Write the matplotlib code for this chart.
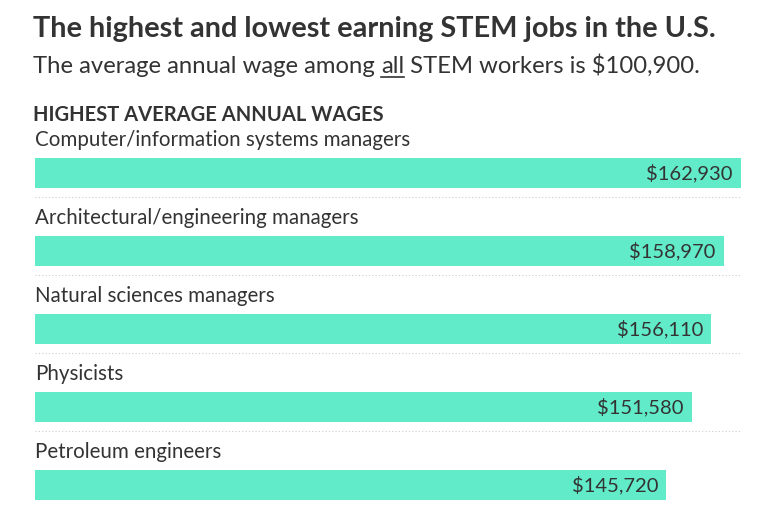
import matplotlib.pyplot as plt
from matplotlib.lines import Line2D

# Datos
jobs = ['Computer/information systems managers', 'Architectural/engineering managers',
        'Natural sciences managers', 'Physicists', 'Petroleum engineers']
wages = [162930, 158970, 156110, 151580, 145720]
labels = ['$162,930', '$158,970', '$156,110', '$151,580', '$145,720']

plt.rcParams['font.family'] = ['Lato', 'DejaVu Sans']
W, H = 780, 514
fig = plt.figure(figsize=(W / 100, H / 100), dpi=100)

# Ejes: 0 en x=35 px, 162930 en x=741 px; filas de 78 px
ax = fig.add_axes([35 / W, 0, 706 / W, (514 - 108) / H])
ax.set_xlim(0, max(wages))
ax.set_ylim(4.372, -0.833)
ax.axis('off')

bar_color = '#62EBC9'
text_color = '#333333'
ys = range(len(jobs))
ax.barh(ys, wages, height=0.385, color=bar_color)

for i, (job, w, lab) in enumerate(zip(jobs, wages, labels)):
    ax.text(0, i - 0.346, job, fontsize=14.8, color=text_color, va='baseline', ha='left')
    ax.annotate(lab, (w, i), xytext=(-6, 0), textcoords='offset points',
                ha='right', va='center', fontsize=14.5, color=text_color)
    if i < len(jobs) - 1:
        ax.plot([0, max(wages)], [i + 0.308, i + 0.308], color='#cccccc',
                linestyle=(0, (1, 2)), linewidth=0.8, clip_on=False)

# Títulos
fig.text(33 / W, 1 - 37 / H, 'The highest and lowest earning STEM jobs in the U.S.',
         fontsize=20.8, fontweight='bold', color=text_color, va='baseline')

renderer = fig.canvas.get_renderer()
x0 = 33 / W
yb = 1 - 73 / H
parts = ['The average annual wage among ', 'all', ' STEM workers is $100,900.']
for k, part in enumerate(parts):
    t = fig.text(x0, yb, part, fontsize=17.2, color=text_color, va='baseline')
    bb = t.get_window_extent(renderer)
    if k == 1:
        fig.add_artist(Line2D([bb.x0 / W, bb.x1 / W], [yb - 4 / H, yb - 4 / H],
                              color=text_color, linewidth=1.2))
    x0 = bb.x1 / W

fig.text(33 / W, 1 - 121 / H, 'HIGHEST AVERAGE ANNUAL WAGES', fontsize=14.5,
         fontweight='bold', color=text_color, va='baseline')

fig.savefig('out.png', dpi=100, facecolor='white')
